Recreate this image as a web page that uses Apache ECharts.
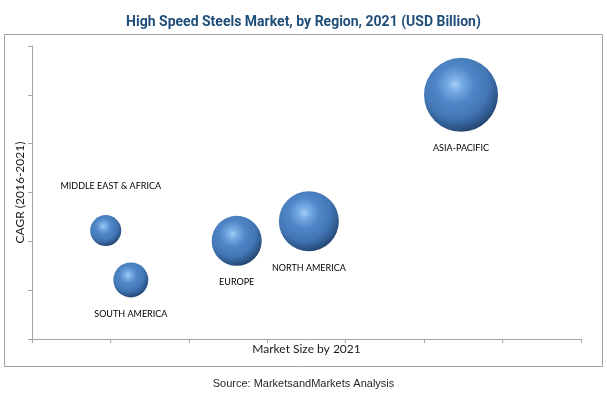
<!DOCTYPE html>
<html>
<head>
<meta charset="utf-8">
<script src="https://cdn.jsdelivr.net/npm/echarts@6/dist/echarts.min.js"></script>
<style>
html,body{margin:0;padding:0;background:#fff;}
#main{width:607px;height:395px;}
</style>
</head>
<body>
<div id="main"></div>
<script>
// ---- data ----
var regions = ['MIDDLE EAST & AFRICA', 'SOUTH AMERICA', 'EUROPE', 'NORTH AMERICA', 'ASIA-PACIFIC'];
var marketSize = [0.94, 1.26, 2.61, 3.53, 5.47];   // x: Market Size by 2021 (relative units)
var cagr = [2.22, 1.21, 2.01, 2.41, 5.0];           // y: CAGR (2016-2021) (relative units)
var bubbleSize = [31, 35, 50, 60, 74];               // relative bubble size

var chart = echarts.init(document.getElementById('main'));

var labelCfg = {
  'MIDDLE EAST & AFRICA': {position: 'top', distance: 24, offset: [5, 0]},
  'SOUTH AMERICA': {position: 'bottom', distance: 12},
  'EUROPE': {position: 'bottom', distance: 12},
  'NORTH AMERICA': {position: 'bottom', distance: 12},
  'ASIA-PACIFIC': {position: 'bottom', distance: 12}
};

var sphere = {
  type: 'radial', x: 0.42, y: 0.36, r: 0.72,
  colorStops: [
    {offset: 0, color: '#a4d0f6'},
    {offset: 0.12, color: '#7aaee6'},
    {offset: 0.35, color: '#5087c8'},
    {offset: 0.62, color: '#4377b6'},
    {offset: 0.8, color: '#2f5a8f'},
    {offset: 1, color: '#1a3354'}
  ]
};

var seriesData = regions.map(function (name, i) {
  var lc = labelCfg[name];
  return {
    name: name,
    value: [marketSize[i], cagr[i], bubbleSize[i]],
    label: {
      show: true,
      formatter: name,
      position: lc.position,
      distance: lc.distance,
      offset: lc.offset || [0, 0]
    }
  };
});

var axisLineStyle = {color: '#a6a6a6', width: 1};

chart.setOption({
  animation: false,
  backgroundColor: '#ffffff',
  title: {
    text: 'High Speed Steels Market, by Region, 2021 (USD Billion)',
    left: 'center',
    top: 10,
    textStyle: {
      fontFamily: 'Roboto',
      fontWeight: 'bold',
      fontSize: 14,
      color: '#1f4e79'
    }
  },
  graphic: [
    {
      type: 'rect',
      shape: {x: 4.5, y: 34.5, width: 598, height: 332},
      style: {fill: 'none', stroke: '#a0a0a0', lineWidth: 1},
      silent: true, z: -1
    },
    {
      type: 'text',
      left: 'center',
      top: 378,
      style: {
        text: 'Source: MarketsandMarkets Analysis',
        font: '11px "Liberation Sans"',
        fill: '#262626'
      }
    }
  ],
  grid: {left: 32, right: 26, top: 46, bottom: 56},
  xAxis: {
    type: 'value', min: 0, max: 7, interval: 1,
    name: 'Market Size by 2021',
    nameLocation: 'middle',
    nameGap: 4,
    nameTextStyle: {fontFamily: 'Lato', fontSize: 12, color: '#1a1a1a', verticalAlign: 'top'},
    axisLine: {show: true, lineStyle: axisLineStyle},
    axisTick: {show: true, length: 4, lineStyle: axisLineStyle},
    axisLabel: {show: false},
    splitLine: {show: false}
  },
  yAxis: {
    type: 'value', min: 0, max: 6, interval: 1,
    name: 'CAGR (2016-2021)',
    nameLocation: 'middle',
    nameGap: 6,
    nameTextStyle: {fontFamily: 'Lato', fontSize: 12, color: '#1a1a1a'},
    axisLine: {show: true, lineStyle: axisLineStyle},
    axisTick: {show: true, length: 4, lineStyle: axisLineStyle},
    axisLabel: {show: false},
    splitLine: {show: false}
  },
  series: [{
    type: 'scatter',
    data: seriesData,
    symbolSize: function (v) { return v[2]; },
    itemStyle: {color: sphere, opacity: 1},
    label: {fontFamily: 'Lato', fontSize: 9, color: '#000000'}
  }]
});
</script>
</body>
</html>
